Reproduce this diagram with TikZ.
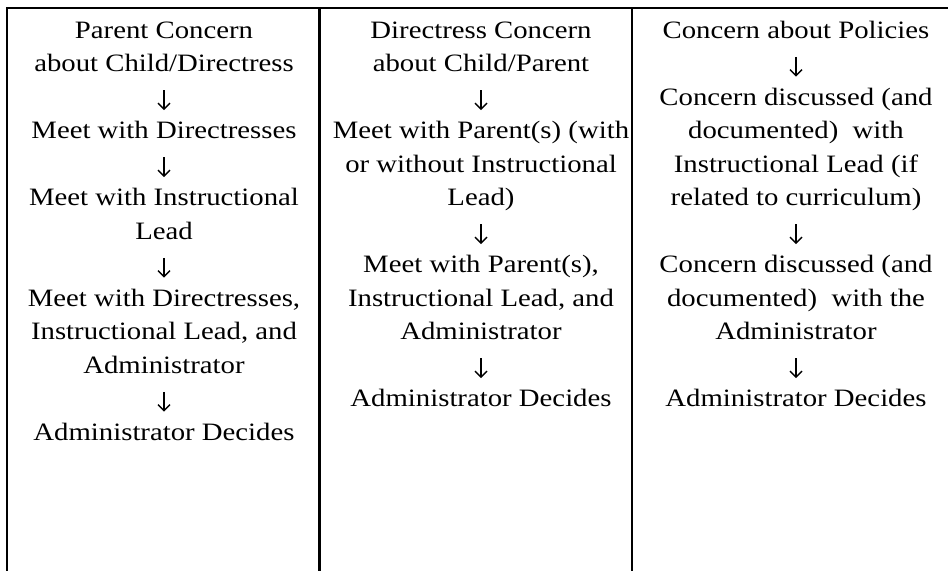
\documentclass[tikz,border=0pt]{standalone}
\usepackage{fontspec}
\setmainfont{Liberation Serif}[FakeStretch=1.15]
\usetikzlibrary{arrows.meta}
\tikzstyle{Step}=[inner sep=0, align=center, anchor=north, font=\fontsize{12.5}{16.75}\selectfont]
\tikzstyle{Flow}=[-{Straight Barb[length=3pt,width=6pt]}, line width=0.7pt, shorten <=4pt, shorten >=2.5pt]
\tikzstyle{Rule}=[line width=1.35pt]

\begin{document}
\begin{tikzpicture}[x=0.5pt, y=-0.5pt]
    \useasboundingbox (0,0) rectangle (948,571);

    % table frame, open at the right and at the bottom
    \coordinate (topleft) at (7,8);
    \coordinate (topright) at (948,8);
    \coordinate (botleft) at (7,571);
    \coordinate (sepa) at (319.5,8);
    \coordinate (sepabot) at (319.5,571);
    \coordinate (sepb) at (632,8);
    \coordinate (sepbbot) at (632,571);
    \draw[Rule] (botleft) -- (topleft) -- (topright);
    \draw[Rule] (sepa) -- (sepabot);
    \draw[Rule] (sepb) -- (sepbbot);

    \path
    (164,14.55) node[Step] (parent) {\strut Parent Concern\\about Child/Directress\strut}
    (164,115.05) node[Step] (pdir) {\strut Meet with Directresses\strut}
    (164,182.05) node[Step] (pinst) {\strut Meet with Instructional\\Lead\strut}
    (164,282.55) node[Step] (pall) {\strut Meet with Directresses,\\Instructional Lead, and\\Administrator\strut}
    (164,416.55) node[Step] (pdec) {\strut Administrator Decides\strut};

    \path
    (481,14.55) node[Step] (directress) {\strut Directress Concern\\about Child/Parent\strut}
    (481,115.05) node[Step] (dpar) {\strut Meet with Parent(s) (with\\or without Instructional\\Lead)\strut}
    (481,249.05) node[Step] (dall) {\strut Meet with Parent(s),\\Instructional Lead, and\\Administrator\strut}
    (481,383.05) node[Step] (ddec) {\strut Administrator Decides\strut};

    \path
    (796,14.55) node[Step] (policy) {\strut Concern about Policies\strut}
    (796,81.55) node[Step] (qinst) {\strut Concern discussed (and\\documented)~ with\\Instructional Lead (if\\related to curriculum)\strut}
    (796,249.05) node[Step] (qadm) {\strut Concern discussed (and\\documented)~ with the\\Administrator\strut}
    (796,383.05) node[Step] (qdec) {\strut Administrator Decides\strut};

    \draw[Flow] (parent) -- (pdir);
    \draw[Flow] (pdir) -- (pinst);
    \draw[Flow] (pinst) -- (pall);
    \draw[Flow] (pall) -- (pdec);
    \draw[Flow] (directress) -- (dpar);
    \draw[Flow] (dpar) -- (dall);
    \draw[Flow] (dall) -- (ddec);
    \draw[Flow] (policy) -- (qinst);
    \draw[Flow] (qinst) -- (qadm);
    \draw[Flow] (qadm) -- (qdec);
\end{tikzpicture}
\end{document}
